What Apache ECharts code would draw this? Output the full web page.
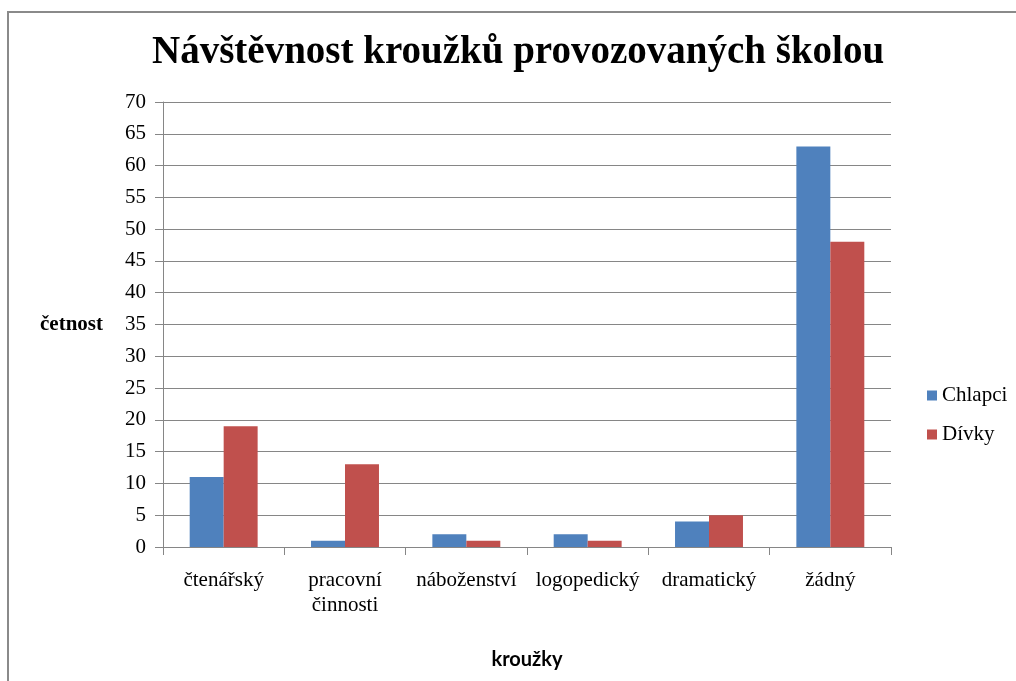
<!DOCTYPE html>
<html>
<head>
<meta charset="utf-8">
<script src="https://cdn.jsdelivr.net/npm/echarts@6/dist/echarts.min.js"></script>
<style>
  html, body { margin: 0; padding: 0; background: #fff; }
  #chart { width: 1016px; height: 681px; }
</style>
</head>
<body>
<div id="chart"></div>
<script>
  // data
  var categories = ['čtenářský', 'pracovní\nčinnosti', 'náboženství', 'logopedický', 'dramatický', 'žádný'];
  var chlapci = [11, 1, 2, 2, 4, 63];
  var divky = [19, 13, 1, 1, 5, 48];

  var serif = '"Liberation Serif", "DejaVu Serif", serif';
  var gridColor = '#868686';

  var myChart = echarts.init(document.getElementById('chart'));

  var option = {
    animation: false,
    backgroundColor: '#fff',
    color: ['#4F81BD', '#C0504D'],
    title: {
      text: 'Návštěvnost kroužků provozovaných školou',
      left: 152,
      top: 33,
      padding: 0,
      textStyle: {
        fontFamily: serif,
        fontWeight: 'bold',
        fontSize: 39,
        color: '#000'
      }
    },
    graphic: [
      {
        type: 'polyline',
        silent: true,
        shape: { points: [[8, 700], [8, 12], [1030, 12]] },
        style: { stroke: '#8a8a8a', lineWidth: 2, fill: null }
      }
    ],
    legend: {
      orient: 'vertical',
      left: 922,
      top: 380,
      itemWidth: 10,
      itemHeight: 10,
      itemGap: 18,
      icon: 'rect',
      textStyle: { fontFamily: serif, fontSize: 21, color: '#000' },
      data: ['Chlapci', 'Dívky']
    },
    grid: {
      left: 163,
      right: 125,
      top: 102,
      bottom: 134,
      containLabel: false
    },
    xAxis: {
      type: 'category',
      data: categories,
      name: 'kroužky',
      nameLocation: 'middle',
      nameGap: 103,
      nameTextStyle: {
        fontFamily: 'Lato, "Open Sans", sans-serif',
        fontWeight: 'bold',
        fontSize: 20,
        color: '#000'
      },
      axisLine: { lineStyle: { color: gridColor, width: 1 } },
      axisTick: { show: true, length: 8, lineStyle: { color: gridColor } },
      axisLabel: {
        margin: 21,
        interval: 0,
        fontFamily: serif,
        fontSize: 21,
        color: '#000',
        lineHeight: 25
      }
    },
    yAxis: {
      type: 'value',
      min: 0,
      max: 70,
      interval: 5,
      name: 'četnost',
      nameLocation: 'middle',
      nameRotate: 0,
      nameGap: 60,
      nameTextStyle: {
        fontFamily: serif,
        fontWeight: 'bold',
        fontSize: 21,
        color: '#000'
      },
      axisLine: { show: true, lineStyle: { color: gridColor, width: 1 } },
      axisTick: { show: true, length: 8, lineStyle: { color: gridColor } },
      axisLabel: {
        margin: 17,
        fontFamily: serif,
        fontSize: 21,
        color: '#000'
      },
      splitLine: { show: true, lineStyle: { color: gridColor, width: 1 } }
    },
    series: [
      {
        name: 'Chlapci',
        type: 'bar',
        data: chlapci,
        barGap: '0%',
        barCategoryGap: '44%'
      },
      {
        name: 'Dívky',
        type: 'bar',
        data: divky,
        barGap: '0%',
        barCategoryGap: '44%'
      }
    ]
  };

  myChart.setOption(option);

  window.addEventListener('resize', function () {
    myChart.resize();
  });
</script>
</body>
</html>
